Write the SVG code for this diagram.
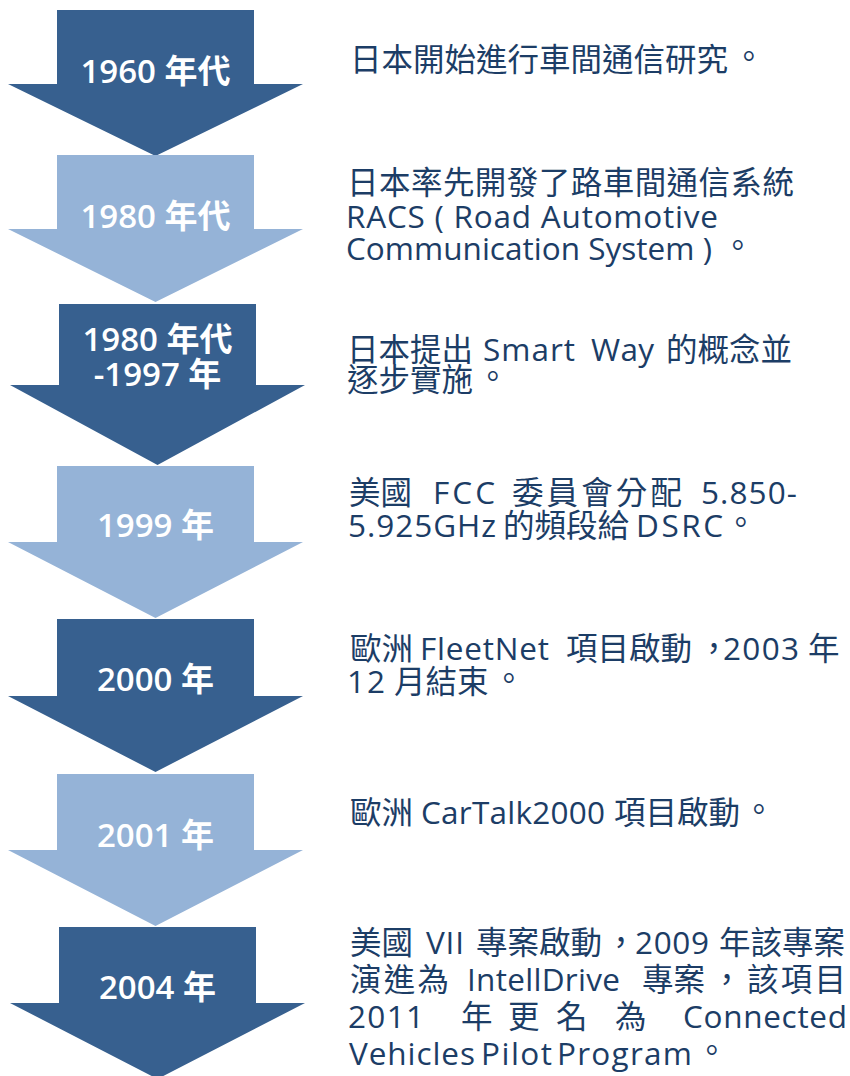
<svg xmlns="http://www.w3.org/2000/svg" width="850" height="1076" viewBox="0 0 850 1076" xml:lang="zh-TW" lang="zh-TW">
<style>
.dark{fill:#37608F}
.light{fill:#95B3D7}
.lbl{font-family:"Open Sans","Noto Sans CJK TC",sans-serif;font-size:33px;fill:#FFFFFF;text-anchor:middle;font-weight:600}
.desc{font-family:"Open Sans","Noto Sans CJK TC",sans-serif;font-size:31.5px;fill:#1C3D66}
</style>
<rect width="850" height="1076" fill="#FFFFFF"/>
<g id="arrow-1960">
<polygon class="dark" points="57,10 254,10 254,84 303,84 155.5,156 8,84 57,84"/>
<text class="lbl" x="155.5" y="83">1960 年代</text>
</g>
<g id="arrow-1980">
<polygon class="light" points="57,155 254,155 254,229 303,229 155.5,302 8,229 57,229"/>
<text class="lbl" x="155.5" y="228">1980 年代</text>
</g>
<g id="arrow-1980-1997">
<polygon class="dark" points="59,304 256,304 256,385 305,385 157.5,465 10,385 59,385"/>
<text class="lbl" x="157.5" y="351">1980 年代</text>
<text class="lbl" x="157.5" y="386">-1997 年</text>
</g>
<g id="arrow-1999">
<polygon class="light" points="57,466 254,466 254,542 303,542 155.5,618 8,542 57,542"/>
<text class="lbl" x="155.5" y="537">1999 年</text>
</g>
<g id="arrow-2000">
<polygon class="dark" points="57,619 254,619 254,696 303,696 155.5,772 8,696 57,696"/>
<text class="lbl" x="155.5" y="691">2000 年</text>
</g>
<g id="arrow-2001">
<polygon class="light" points="57,774 254,774 254,850 303,850 155.5,926 8,850 57,850"/>
<text class="lbl" x="155.5" y="847">2001 年</text>
</g>
<g id="arrow-2004">
<polygon class="dark" points="59,927 256,927 256,1003 305,1003 157.5,1079 10,1003 59,1003"/>
<text class="lbl" x="157.5" y="999">2004 年</text>
</g>

<g id="desc-1960">
<text class="desc" y="71"><tspan x="350">日本開始進行車間通信研究</tspan><tspan x="733" y="68">。</tspan></text>
</g>
<g id="desc-1980">
<text class="desc" y="194"><tspan x="347" textLength="447" lengthAdjust="spacing">日本率先開發了路車間通信系統</tspan></text>
<text class="desc" y="228"><tspan x="346" textLength="372" lengthAdjust="spacing">RACS ( Road Automotive</tspan></text>
<text class="desc" y="260"><tspan x="346" textLength="366" lengthAdjust="spacing">Communication System )</tspan><tspan x="722" y="257">。</tspan></text>
</g>
<g id="desc-1980-1997">
<text class="desc" y="361"><tspan x="347">日本提出</tspan><tspan x="483" textLength="92" lengthAdjust="spacing">Smart</tspan><tspan x="591" textLength="63" lengthAdjust="spacing">Way</tspan><tspan x="666">的概念並</tspan></text>
<text class="desc" y="391"><tspan x="347">逐步實施</tspan><tspan x="477" y="388">。</tspan></text>
</g>
<g id="desc-1999">
<text class="desc" y="504"><tspan x="349">美國</tspan><tspan x="433" textLength="62" lengthAdjust="spacing">FCC</tspan><tspan x="512" textLength="170" lengthAdjust="spacing">委員會分配</tspan><tspan x="701" textLength="96" lengthAdjust="spacing">5.850-</tspan></text>
<text class="desc" y="537"><tspan x="348" textLength="148" lengthAdjust="spacing">5.925GHz</tspan><tspan x="503">的頻段給</tspan><tspan x="636" textLength="87" lengthAdjust="spacing">DSRC</tspan><tspan x="725" y="534">。</tspan></text>
</g>
<g id="desc-2000">
<text class="desc" y="660"><tspan x="350">歐洲</tspan><tspan x="420" textLength="129" lengthAdjust="spacing">FleetNet</tspan><tspan x="566">項目啟動</tspan><tspan x="698">，</tspan><tspan x="723" textLength="76" lengthAdjust="spacing">2003</tspan><tspan x="808">年</tspan></text>
<text class="desc" y="693"><tspan x="347" textLength="38" lengthAdjust="spacing">12</tspan><tspan x="394">月結束</tspan><tspan x="493" y="690">。</tspan></text>
</g>
<g id="desc-2001">
<text class="desc" y="824"><tspan x="350">歐洲</tspan><tspan x="421" textLength="184" lengthAdjust="spacing">CarTalk2000</tspan><tspan x="614">項目啟動</tspan><tspan x="743" y="821">。</tspan></text>
</g>
<g id="desc-2004">
<text class="desc" y="954"><tspan x="350">美國</tspan><tspan x="426" textLength="38" lengthAdjust="spacing">VII</tspan><tspan x="476">專案啟動</tspan><tspan x="605">，</tspan><tspan x="635" textLength="74" lengthAdjust="spacing">2009</tspan><tspan x="719">年該專案</tspan></text>
<text class="desc" y="991"><tspan x="350" textLength="99" lengthAdjust="spacing">演進為</tspan><tspan x="467" textLength="153" lengthAdjust="spacing">IntellDrive</tspan><tspan x="642">專案</tspan><tspan x="711">，</tspan><tspan x="747" textLength="99" lengthAdjust="spacing">該項目</tspan></text>
<text class="desc" y="1028"><tspan x="348" textLength="76" lengthAdjust="spacing">2011</tspan><tspan x="461">年</tspan><tspan x="508">更</tspan><tspan x="556">名</tspan><tspan x="615">為</tspan><tspan x="683" textLength="164" lengthAdjust="spacing">Connected</tspan></text>
<text class="desc" y="1065"><tspan x="349" textLength="126" lengthAdjust="spacing">Vehicles</tspan><tspan x="481" textLength="71" lengthAdjust="spacing">Pilot</tspan><tspan x="557" textLength="135" lengthAdjust="spacing">Program</tspan><tspan x="696" y="1062">。</tspan></text>
</g>
</svg>
